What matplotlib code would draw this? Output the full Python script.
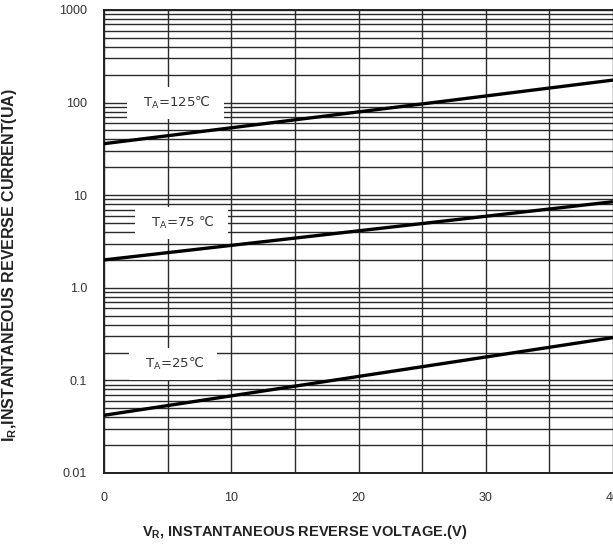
import matplotlib
matplotlib.use("Agg")
from matplotlib import pyplot as plt
from matplotlib.ticker import FixedLocator, LogLocator, NullFormatter

plt.rcParams["font.family"] = ["Liberation Sans", "DejaVu Sans"]

# reverse leakage current vs reverse voltage, one straight run per temperature
volts = [0, 40]
ir_125 = [36, 175]
ir_75 = [2.0, 8.5]
ir_25 = [0.042, 0.29]

curve_labels = ["T$_\\mathregular{A}$=125\u2103", "T$_\\mathregular{A}$=75 \u2103", "T$_\\mathregular{A}$=25\u2103"]
label_pos = [(5.6, 100), (6.1, 5.0), (5.4, 0.15)]

x_ticks = [0, 10, 20, 30, 40]
y_ticks = [0.01, 0.1, 1.0, 10, 100, 1000]
y_tick_labels = ["0.01", "0.1", "1.0", "10", "100", "1000"]

fig = plt.figure(figsize=(6.13, 5.46), dpi=100)
ax = fig.add_axes([0.1697, 0.1337, 0.8303, 0.848])

ax.set_yscale("log")
ax.set_xlim(0, 40)
ax.set_ylim(0.01, 1000)

ax.xaxis.set_major_locator(FixedLocator(x_ticks))
ax.xaxis.set_minor_locator(FixedLocator([5, 15, 25, 35]))
ax.set_xticklabels([str(t) for t in x_ticks])
ax.yaxis.set_major_locator(FixedLocator(y_ticks))
ax.yaxis.set_minor_locator(LogLocator(base=10, subs=range(2, 10)))
ax.yaxis.set_minor_formatter(NullFormatter())
ax.set_yticklabels(y_tick_labels)

ax.grid(True, which="both", color="#2a2a2a", linewidth=1.0)
ax.tick_params(which="both", length=0, labelsize=9, colors="#333333")
ax.tick_params(axis="x", pad=14)
ax.tick_params(axis="y", pad=12)
for side in ["left", "bottom", "top"]:
    ax.spines[side].set_linewidth(1.4)
    ax.spines[side].set_color("#222222")
ax.spines["right"].set_visible(False)

for series in [ir_125, ir_75, ir_25]:
    ax.plot(volts, series, color="black", linewidth=2.4, solid_capstyle="butt",
            zorder=4, clip_on=False)

# DejaVu carries the degree-Celsius sign, Liberation does not
for text, (x, y) in zip(curve_labels, label_pos):
    ax.text(x, y, "  " + text + "  ", fontsize=9.5, color="#333333",
            family="DejaVu Sans", ha="center", va="center", zorder=3,
            bbox=dict(facecolor="white", edgecolor="none", boxstyle="square,pad=0.6"))

ax.set_xlabel("V$_\\mathregular{R}$, INSTANTANEOUS REVERSE VOLTAGE.(V)",
              fontsize=10.5, fontweight="bold", color="#222222")
ax.xaxis.set_label_coords(0.395, -0.108)
ax.set_ylabel("I$_\\mathregular{R}$,INSTANTANEOUS REVERSE CURRENT(UA)",
              fontsize=11.5, fontweight="bold", color="#222222")
ax.yaxis.set_label_coords(-0.168, 0.45)

fig.savefig("out.png", dpi=100)
